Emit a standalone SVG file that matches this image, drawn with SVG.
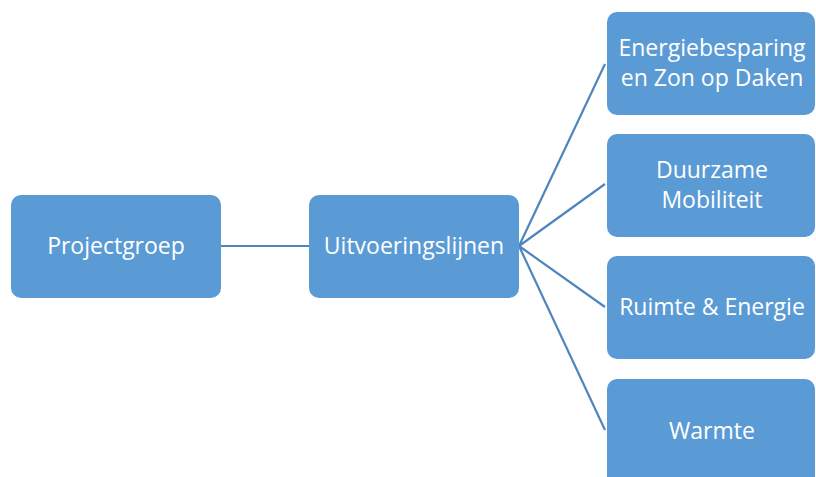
<svg xmlns="http://www.w3.org/2000/svg" width="816" height="477" viewBox="0 0 816 477">
<style>
.box{fill:#5b9bd5;}
.t{fill:#ffffff;font-family:"Open Sans","Noto Sans","Liberation Sans",sans-serif;font-size:23px;text-anchor:middle;}
.c{stroke:#4f85bd;stroke-width:2.2;fill:none;}
</style>
<rect width="816" height="477" fill="#ffffff"/>
<g id="connectors">
<line class="c" x1="221" y1="246" x2="309" y2="246"/>
<line class="c" x1="519" y1="246" x2="605" y2="64"/>
<line class="c" x1="519" y1="246" x2="605" y2="184"/>
<line class="c" x1="519" y1="246" x2="605" y2="307"/>
<line class="c" x1="519" y1="246" x2="605" y2="430"/>
</g>
<g id="projectgroep">
<rect class="box" x="11" y="195" width="210" height="103" rx="10"/>
<text class="t" x="116" y="254">Projectgroep</text>
</g>
<g id="uitvoeringslijnen">
<rect class="box" x="309" y="195" width="210" height="103" rx="10"/>
<text class="t" x="414" y="254">Uitvoeringslijnen</text>
</g>
<g id="energiebesparing">
<rect class="box" x="607" y="12" width="208" height="103" rx="10"/>
<text class="t" x="712" y="56">Energiebesparing</text>
<text class="t" x="712" y="86">en Zon op Daken</text>
</g>
<g id="mobiliteit">
<rect class="box" x="607" y="134" width="208" height="103" rx="10"/>
<text class="t" x="712" y="178">Duurzame</text>
<text class="t" x="712" y="208">Mobiliteit</text>
</g>
<g id="ruimte">
<rect class="box" x="607" y="256" width="208" height="103" rx="10"/>
<text class="t" x="712" y="315">Ruimte &amp; Energie</text>
</g>
<g id="warmte">
<rect class="box" x="607" y="379" width="208" height="110" rx="10"/>
<text class="t" x="712" y="439">Warmte</text>
</g>
</svg>
